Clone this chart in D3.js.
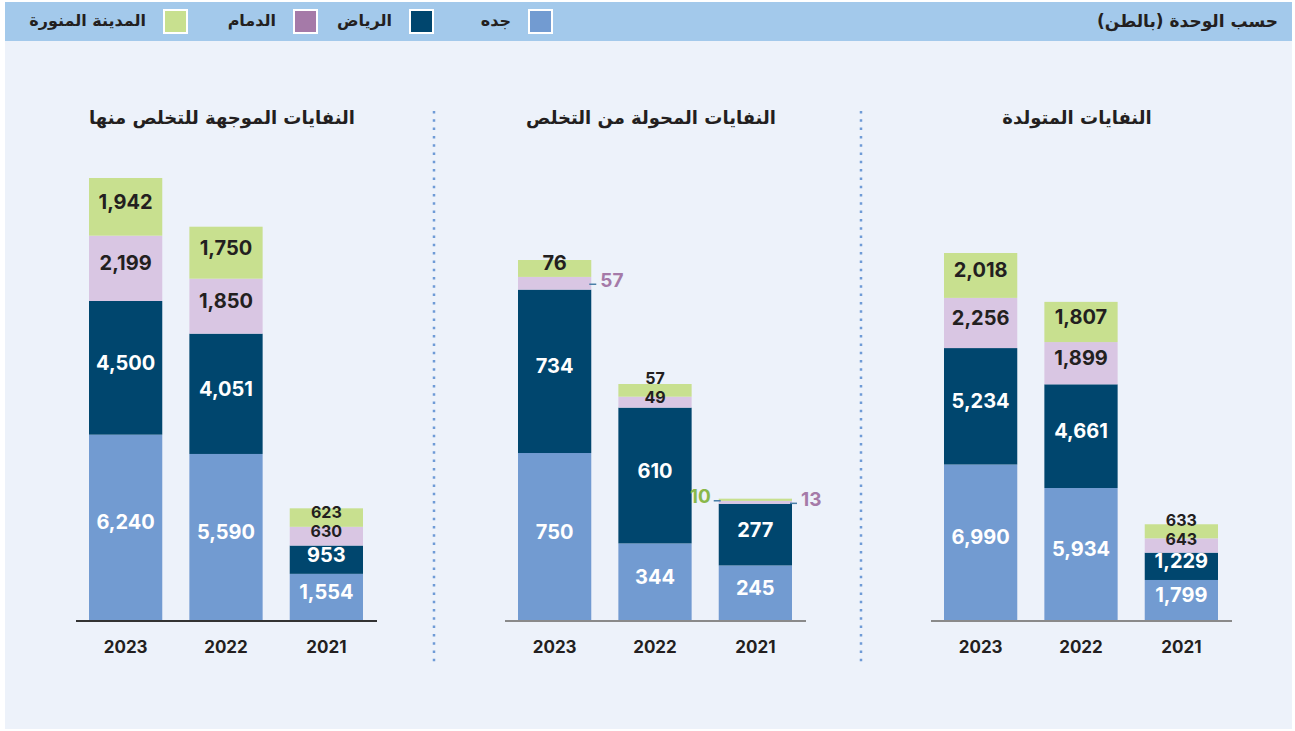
<!DOCTYPE html>
<html>
<head>
<meta charset="utf-8">
<script src="https://cdn.jsdelivr.net/npm/d3@7"></script>
<style>
  body { margin: 0; background: #fff; }
  svg { display: block; }
</style>
</head>
<body>
<div id="chart"></div>
<script>
// categories
var years = ["2023", "2022", "2021"];
var cities = ["جده", "الرياض", "الدمام", "المدينة المنورة"];
var panelTitles = ["النفايات الموجهة للتخلص منها", "النفايات المحولة من التخلص", "النفايات المتولدة"];

// values per city, same order as years
var disposalJeddah = [6240, 5590, 1554];
var disposalRiyadh = [4500, 4051, 953];
var disposalDammam = [2199, 1850, 630];
var disposalMadinah = [1942, 1750, 623];

var divertedJeddah = [750, 344, 245];
var divertedRiyadh = [734, 610, 277];
var divertedDammam = [57, 49, 13];
var divertedMadinah = [76, 57, 10];

var generatedJeddah = [6990, 5934, 1799];
var generatedRiyadh = [5234, 4661, 1229];
var generatedDammam = [2256, 1899, 643];
var generatedMadinah = [2018, 1807, 633];

var panelValues = [
    [disposalJeddah, disposalRiyadh, disposalDammam, disposalMadinah],
    [divertedJeddah, divertedRiyadh, divertedDammam, divertedMadinah],
    [generatedJeddah, generatedRiyadh, generatedDammam, generatedMadinah]
];

// layout
var W = 1295, H = 731;
var baseY = 620;
var panelLeft = [89, 518, 944];   // first bar left edge
var panelTop = [178, 260, 253];   // top of tallest bar
var barsWidth = 274;
var dividers = [434, 861];

var legendFill = ["#729bd1", "#00466e", "#a57aa8", "#c8e08f"];
var barFill = ["#729bd1", "#00466e", "#d9c6e3", "#c8e08f"];
var labelFill = ["#fff", "#fff", "#231f20", "#231f20"];

var arFont = "'DejaVu Sans', 'Noto Sans', sans-serif";
var numFont = "Inter, Roboto, sans-serif";

var svg = d3.select("#chart").append("svg")
    .attr("width", W)
    .attr("height", H);

// background + header band
svg.append("rect").attr("x", 5).attr("y", 2).attr("width", W - 8).attr("height", H - 4)
    .attr("fill", "#edf2fa");
svg.append("rect").attr("x", 5).attr("y", 2).attr("width", W - 8).attr("height", 39)
    .attr("fill", "#a3c9eb");

svg.append("text")
    .attr("x", 1278).attr("y", 21)
    .attr("text-anchor", "start")
    .attr("dominant-baseline", "central")
    .attr("direction", "rtl")
    .style("font-family", arFont).style("font-weight", "bold").style("font-size", "17px")
    .attr("fill", "#231f20")
    .text("حسب الوحدة (بالطن)");

// legend
var legendX = [529, 410, 294, 164];
var legend = svg.append("g").selectAll("g").data(cities).enter().append("g");
legend.append("rect")
    .attr("x", function(d, i) { return legendX[i]; })
    .attr("y", 10).attr("width", 23).attr("height", 23)
    .attr("fill", function(d, i) { return legendFill[i]; })
    .attr("stroke", "#fff").attr("stroke-width", 2);
legend.append("text")
    .attr("x", function(d, i) { return legendX[i] - 18; })
    .attr("y", 20)
    .attr("text-anchor", "start")
    .attr("direction", "rtl")
    .attr("dominant-baseline", "central")
    .style("font-family", arFont).style("font-weight", "bold").style("font-size", "16px")
    .attr("fill", "#231f20")
    .text(function(d) { return d; });

// dotted dividers
dividers.forEach(function(x) {
    svg.append("line")
        .attr("x1", x).attr("x2", x).attr("y1", 111).attr("y2", 663)
        .attr("stroke", "#6f9bd6").attr("stroke-width", 2.5)
        .attr("stroke-dasharray", "2.5,5.8");
});

// small segments labelled outside the bar: [panel, yearIndex, cityIndex, side]
var outside = [[1, 0, 2, "right"], [1, 2, 2, "right"], [1, 2, 3, "left"]];
var outsideColor = ["", "", "#a57aa8", "#8ab84a"];

panelValues.forEach(function(series, p) {
    var g = svg.append("g");

    var x = d3.scaleBand()
        .domain(years)
        .range([panelLeft[p], panelLeft[p] + barsWidth])
        .paddingInner(0.27)
        .paddingOuter(0);

    var totals = years.map(function(y, j) { return d3.sum(series, function(s) { return s[j]; }); });
    var y = d3.scaleLinear()
        .domain([0, d3.max(totals)])
        .range([baseY, panelTop[p]]);

    // stacked segments
    var segs = [];
    years.forEach(function(yr, j) {
        var acc = 0;
        series.forEach(function(s, c) {
            segs.push({year: yr, j: j, c: c, v: s[j], y0: acc, y1: acc + s[j]});
            acc += s[j];
        });
    });

    g.selectAll("rect.seg").data(segs).enter().append("rect")
        .attr("class", "seg")
        .attr("x", function(d) { return x(d.year); })
        .attr("width", x.bandwidth())
        .attr("y", function(d) { return y(d.y1); })
        .attr("height", function(d) { return y(d.y0) - y(d.y1); })
        .attr("fill", function(d) { return barFill[d.c]; });

    // axis baseline
    g.append("line")
        .attr("x1", panelLeft[p] - 13).attr("x2", panelLeft[p] + barsWidth + 14)
        .attr("y1", baseY + 1).attr("y2", baseY + 1)
        .attr("stroke", p === 0 ? "#333" : "#8a8a8a").attr("stroke-width", 2);

    // year labels
    var xAxis = g.append("g")
        .attr("transform", "translate(0," + (baseY + 27) + ")")
        .call(d3.axisBottom(x).tickSize(0).tickPadding(0));
    xAxis.select(".domain").remove();
    xAxis.selectAll("text")
        .attr("dy", "0.35em")
        .style("font-family", numFont).style("font-weight", "bold").style("font-size", "17px")
        .attr("fill", "#231f20");

    // panel title
    g.append("text")
        .attr("x", panelLeft[p] + barsWidth / 2 - 4)
        .attr("y", 117)
        .attr("text-anchor", "middle")
        .attr("dominant-baseline", "central")
        .attr("direction", "rtl")
        .style("font-family", arFont).style("font-weight", "bold").style("font-size", "18px")
        .attr("fill", "#231f20")
        .text(panelTitles[p]);

    // value labels, bar by bar from the bottom up, nudged so they don't collide
    years.forEach(function(yr, j) {
        var barSegs = segs.filter(function(d) { return d.j === j; });
        var isOut = function(d) {
            return outside.some(function(o) { return o[0] === p && o[1] === d.j && o[2] === d.c; });
        };
        var tightTop = barSegs.slice(2).every(function(d) {
            return !isOut(d) && (y(d.y0) - y(d.y1)) < 20;
        });
        var prevY = null, prevHalf = 0;
        barSegs.forEach(function(d) {
            var top = y(d.y1), bot = y(d.y0), mid = (top + bot) / 2;
            var fmt = d3.format(",")(d.v);
            if (isOut(d)) {
                var side = outside.filter(function(o) { return o[0] === p && o[1] === d.j && o[2] === d.c; })[0][3];
                var left = x(d.year), right = left + x.bandwidth();
                var dx1 = side === "right" ? right - 2 : left - 5;
                g.append("line")
                    .attr("x1", dx1).attr("x2", dx1 + 7)
                    .attr("y1", mid + 1).attr("y2", mid + 1)
                    .attr("stroke", "#4a7fa8").attr("stroke-width", 1.5);
                g.append("text")
                    .attr("x", side === "right" ? right + 9 : left - 8)
                    .attr("y", mid - 3)
                    .attr("text-anchor", side === "right" ? "start" : "end")
                    .attr("dominant-baseline", "central")
                    .style("font-family", numFont).style("font-weight", "bold").style("font-size", "19px")
                    .attr("fill", outsideColor[d.c])
                    .text(fmt);
                return;
            }
            var fs = (tightTop && d.c >= 2) ? 16 : 20;
            var half = fs * 0.61;
            var cy = mid - 5;
            if (prevY !== null) cy = Math.min(cy, prevY - prevHalf - half);
            prevY = cy; prevHalf = half;
            g.append("text")
                .attr("x", x(d.year) + x.bandwidth() / 2)
                .attr("y", cy)
                .attr("text-anchor", "middle")
                .attr("dominant-baseline", "central")
                .style("font-family", numFont).style("font-weight", "bold").style("font-size", fs + "px")
                .attr("fill", labelFill[d.c])
                .text(fmt);
        });
    });
});
</script>
</body>
</html>
